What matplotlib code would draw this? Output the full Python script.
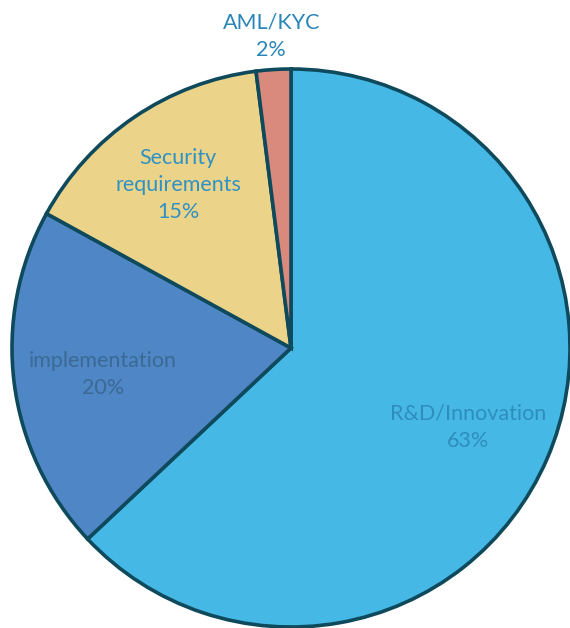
import numpy as np
import matplotlib.pyplot as plt

labels = ['R&D/Innovation', 'implementation', 'Security\nrequirements', 'AML/KYC']
shares = [63, 20, 15, 2]
colors = ['#45B8E6', '#4F86C6', '#EBD38A', '#D98A7C']
text_colors = ['#2F8DBE', '#3A6A94', '#2E92C4', '#2A86B8']
label_dist = [0.69, 0.68, 0.72, 1.13]

W, H = 570, 628
fig = plt.figure(figsize=(W / 100, H / 100), dpi=100)
ax = fig.add_axes([0, 0, 1, 1])

cx, cy, r = 291, H - 348, 279
wedges, _ = ax.pie(shares, colors=colors, startangle=90, counterclock=False,
                   center=(cx, cy), radius=r, frame=True,
                   wedgeprops=dict(edgecolor='#0E4A5C', linewidth=2.6))
ax.set_xlim(0, W)
ax.set_ylim(0, H)
ax.set_aspect('equal')
ax.axis('off')

for w, lab, pct, tc, d in zip(wedges, labels, shares, text_colors, label_dist):
    ang = np.deg2rad((w.theta1 + w.theta2) / 2)
    x = cx + d * r * np.cos(ang)
    y = cy + d * r * np.sin(ang) - 3
    ax.text(x, y, f'{lab}\n{pct}%', ha='center', va='center', color=tc,
            fontsize=15.5, family=['Lato', 'DejaVu Sans'], linespacing=1.45)

fig.savefig('out.png', dpi=100)
